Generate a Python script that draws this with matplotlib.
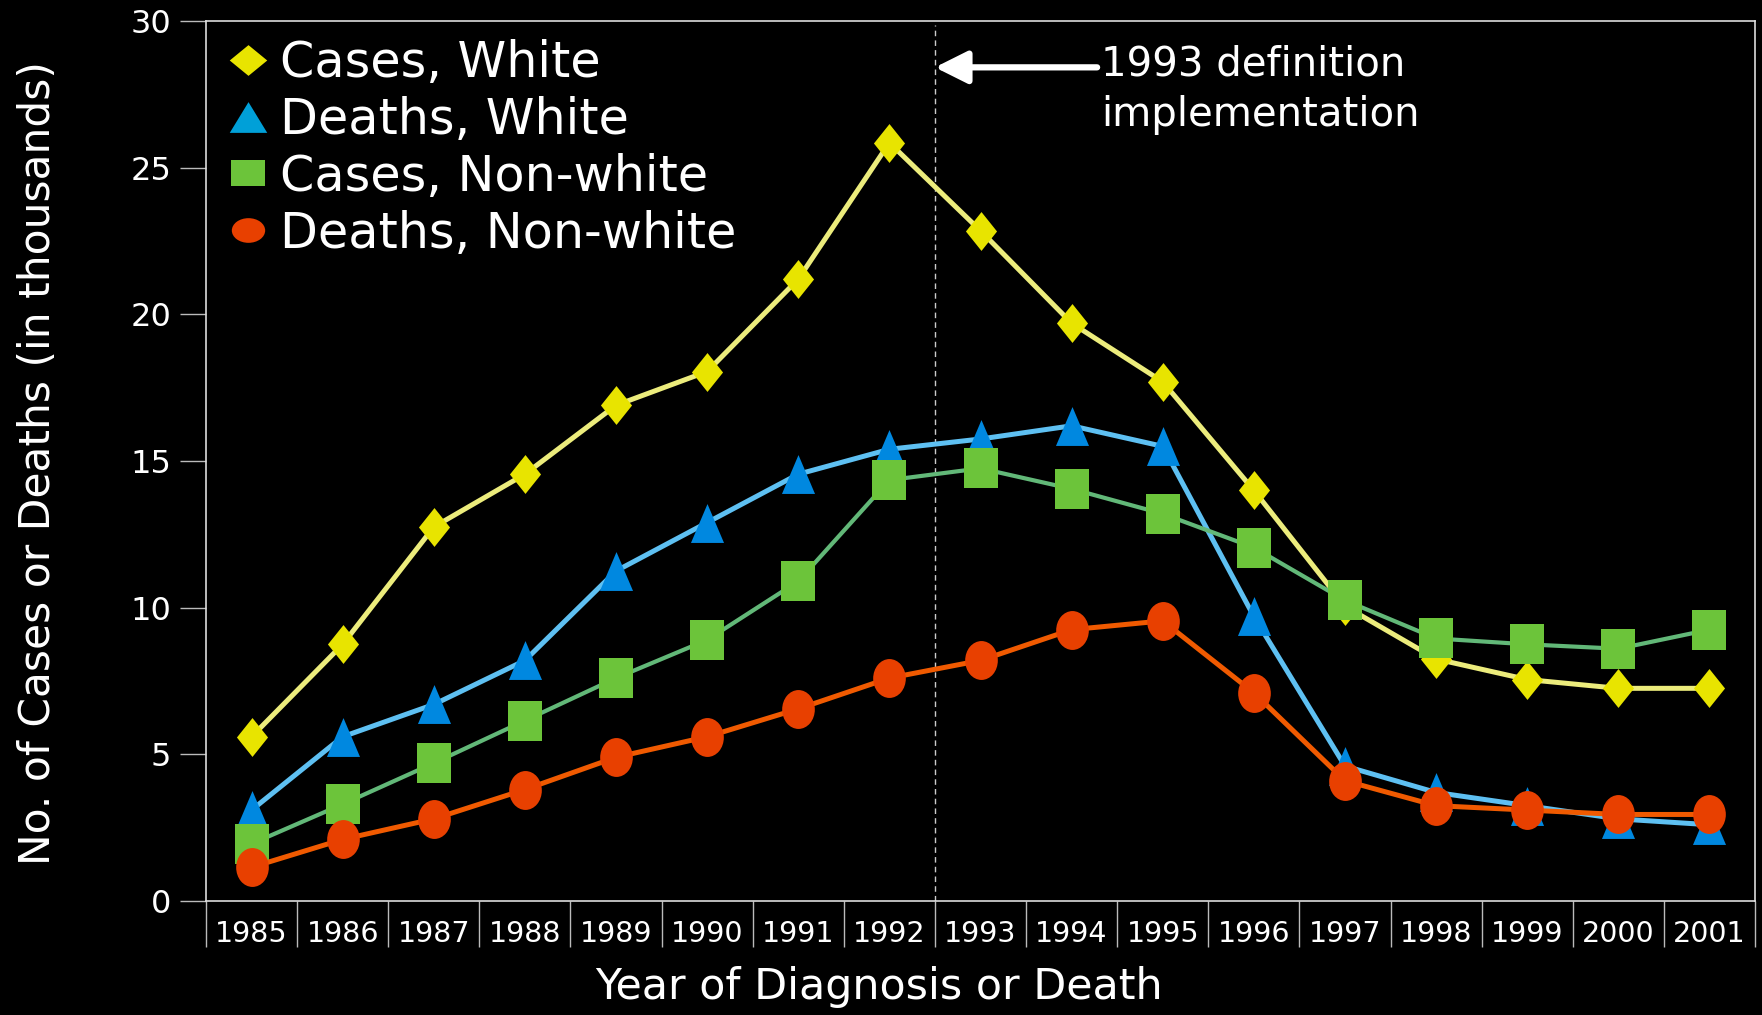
import numpy as np
import matplotlib
matplotlib.use("Agg")
import matplotlib.pyplot as plt
from matplotlib.path import Path
from matplotlib.transforms import Affine2D
from matplotlib.lines import Line2D

years = [str(y) for y in range(1985, 2002)]

cases_white = [5.6, 8.75, 12.75, 14.55, 16.9, 18.05, 21.2, 25.85, 22.85, 19.7,
               17.7, 14.0, 10.05, 8.25, 7.55, 7.25, 7.25]
deaths_white = [3.1, 5.6, 6.7, 8.2, 11.25, 12.9, 14.55, 15.4, 15.75, 16.2,
                15.5, 9.7, 4.6, 3.7, 3.25, 2.8, 2.6]
cases_nonwhite = [1.95, 3.3, 4.7, 6.15, 7.6, 8.9, 10.9, 14.35, 14.75, 14.05,
                  13.2, 12.05, 10.25, 8.95, 8.75, 8.6, 9.25]
deaths_nonwhite = [1.15, 2.1, 2.8, 3.8, 4.9, 5.6, 6.55, 7.6, 8.2, 9.25,
                   9.55, 7.1, 4.1, 3.25, 3.1, 2.95, 2.95]

labels = ["Cases, White", "Deaths, White", "Cases, Non-white", "Deaths, Non-white"]


# custom marker shapes (w = half width relative to half height)
def diamond(w, h=1.0):
    return Path([(0, h), (w, 0), (0, -h), (-w, 0), (0, h)], closed=True)


def triangle(w, h=1.0):
    return Path([(0, h), (w, -h), (-w, -h), (0, h)], closed=True)


def square(w, h=1.0):
    return Path([(-w, -h), (w, -h), (w, h), (-w, h), (-w, -h)], closed=True)


def ellipse(w, h=1.0):
    return Path.unit_circle().transformed(Affine2D().scale(w, h))


plt.rcParams['font.family'] = ['DejaVu Sans']

fig = plt.figure(figsize=(17.62, 10.15), dpi=100, facecolor='black')
ax = fig.add_axes([206 / 1762, 1 - 901 / 1015, (1755 - 206) / 1762, (901 - 21) / 1015])
ax.set_facecolor('black')

x = np.arange(len(years))

series = [
    (cases_white, '#ecec7c', '#e8e400', diamond(0.8), 3.6, 28),
    (deaths_white, '#5ec0f2', '#0088e0', triangle(0.85), 3.6, 28),
    (cases_nonwhite, '#62b878', '#6cc43a', square(0.83), 3.0, 29),
    (deaths_nonwhite, '#f05a00', '#e84000', ellipse(0.84), 3.6, 28),
]
for i, (vals, lc, mc, mk, lw, ms) in enumerate(series):
    ax.plot(x, vals, color=lc, lw=lw, zorder=2 + i * 2)
    ax.plot(x, vals, ls='none', marker=mk, ms=ms, markerfacecolor=mc,
            markeredgewidth=0, zorder=3 + i * 2)

ax.set_xlim(-0.5, len(years) - 0.5)
ax.set_ylim(0, 30)

ax.set_yticks([0, 5, 10, 15, 20, 25, 30])
ax.set_xticks(x)
ax.set_xticklabels(years)
ax.set_xticks(np.arange(-0.5, len(years)), minor=True)
ax.tick_params(axis='x', which='major', length=0, pad=14, labelsize=20.5, colors='white')
ax.tick_params(axis='x', which='minor', length=33, width=1, color='#bbbbbb', direction='out')
ax.tick_params(axis='y', length=19, width=1, pad=6, labelsize=23,
               colors='#bbbbbb', labelcolor='white')
for s in ax.spines.values():
    s.set_color('#dddddd')
    s.set_linewidth(1.2)

# 1993 definition marker
ax.axvline(7.5, ymin=0, ymax=0.995, color='#cccccc', lw=1, ls=(0, (4, 3)), zorder=1)
ax.annotate('', xy=(7.5, 28.42), xytext=(9.28, 28.42),
            arrowprops=dict(arrowstyle='-|>,head_length=1.1,head_width=0.55',
                            lw=4.5, color='white', shrinkA=0, shrinkB=0,
                            mutation_scale=18))
ax.text(9.32, 27.66, "1993 definition\nimplementation", color='white', fontsize=29,
        ha='left', va='center', linespacing=1.32)

# legend
handles = [
    Line2D([], [], ls='none', marker=diamond(1.0, 0.82), ms=27, markerfacecolor='#e8e400', markeredgewidth=0),
    Line2D([], [], ls='none', marker=triangle(1.0, 0.82), ms=27, markerfacecolor='#00a0d8', markeredgewidth=0),
    Line2D([], [], ls='none', marker=square(1.0, 0.78), ms=24, markerfacecolor='#6cc43a', markeredgewidth=0),
    Line2D([], [], ls='none', marker=ellipse(1.0, 0.74), ms=24, markerfacecolor='#e84000', markeredgewidth=0),
]
leg = ax.legend(handles, labels, loc='upper left', bbox_to_anchor=(229 / 1762, 1 - 39 / 1015),
                bbox_transform=fig.transFigure, frameon=False, fontsize=35.5,
                handlelength=0.77, handletextpad=0.27, labelspacing=0.18,
                borderpad=0, borderaxespad=0)
for t in leg.get_texts():
    t.set_color('white')

fig.text(879 / 1762, 1 - 987 / 1015, "Year of Diagnosis or Death", color='white',
         fontsize=30.8, ha='center', va='center')
fig.text(38 / 1762, 1 - 463 / 1015, "No. of Cases or Deaths (in thousands)", color='white',
         fontsize=30.5, ha='center', va='center', rotation=90)

fig.savefig('out.png', dpi=100, facecolor='black')
